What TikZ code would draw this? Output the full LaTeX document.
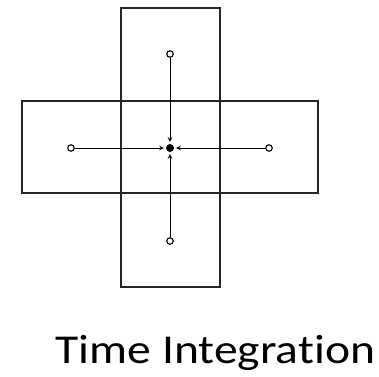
\documentclass[tikz,border=0pt]{standalone}
\usepackage{fontspec}
\setmainfont[Ligatures=NoCommon]{Carlito}
\newfontfamily\titlefont[Ligatures=NoCommon,FakeStretch=1.16]{Carlito}
\usepackage{tikz}
\tikzset{
  cell/.style={draw=black!85,line width=1.4pt},
  pt/.style={circle,draw,line width=1.1pt,inner sep=0pt,minimum size=6.5pt,fill=white},
  ctr/.style={circle,fill=black,inner sep=0pt,minimum size=8pt},
  flux/.style={->,line width=1pt,shorten >=2pt}
}

\begin{document}
\begin{tikzpicture}[x=1pt,y=-1pt,>=stealth]
\useasboundingbox (0,0) rectangle (379,376);
\draw[cell] (121,8) rectangle (220,287);
\draw[cell] (22,101) rectangle (318,193);
\node[ctr] (c) at (170,148) {};
\node[pt] (n) at (170,54) {};
\node[pt] (s) at (170,241) {};
\node[pt] (w) at (71,148) {};
\node[pt] (e) at (269,148) {};
\draw[flux] (n)--(c);
\draw[flux] (s)--(c);
\draw[flux] (w)--(c);
\draw[flux] (e)--(c);
\node[anchor=base,font=\titlefont\fontsize{41}{49}\selectfont] (t) at (215.5,363) {Time Integration};
\end{tikzpicture}
\end{document}
